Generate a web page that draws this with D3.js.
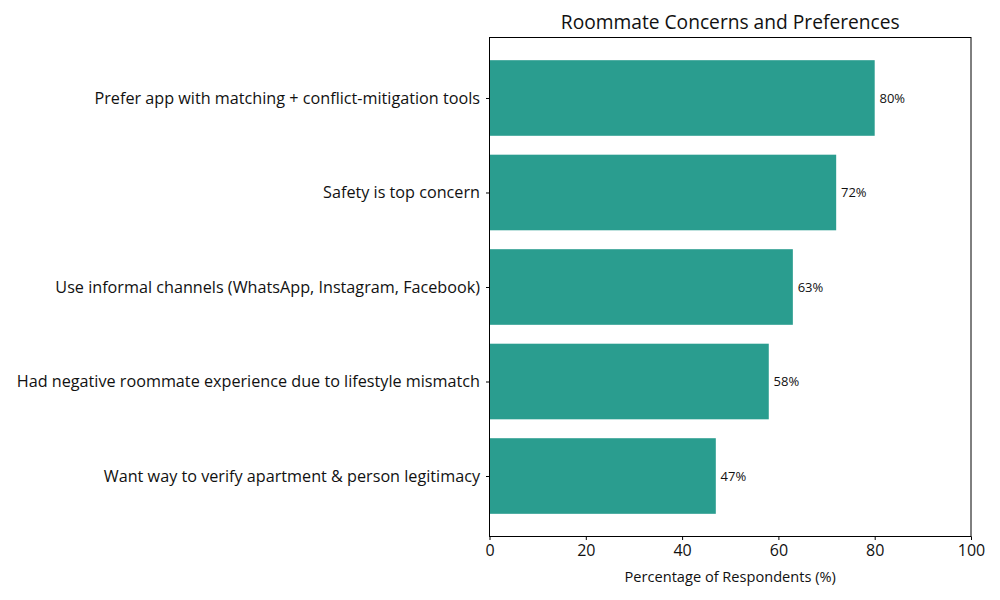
<!DOCTYPE html>
<html>
<head>
<meta charset="utf-8">
<script src="https://cdn.jsdelivr.net/npm/d3@7"></script>
<style>
  body { margin: 0; background: #fff; }
  text { font-family: "Open Sans", sans-serif; fill: #111; }
</style>
</head>
<body>
<script>
// survey items, top to bottom
const categories = [
    "Prefer app with matching + conflict-mitigation tools",
    "Safety is top concern",
    "Use informal channels (WhatsApp, Instagram, Facebook)",
    "Had negative roommate experience due to lifestyle mismatch",
    "Want way to verify apartment & person legitimacy"
];
const percentages = [80, 72, 63, 58, 47];
const xTicks = [0, 20, 40, 60, 80, 100];

const width = 1000;
const height = 600;
const plotLeft = 489.5, plotRight = 971, plotTop = 37.5, plotBottom = 536.5;

const svg = d3.select("body").append("svg")
    .attr("width", width)
    .attr("height", height);

const xScale = d3.scaleLinear().domain([0, 100]).range([plotLeft, plotRight]);
// matplotlib style barh: bars at 0..n-1, height 0.8, 5% margins
const n = categories.length;
const pad = (n - 1 + 0.8) * 0.05;
const yScale = d3.scaleLinear().domain([-0.4 - pad, n - 1 + 0.4 + pad]).range([plotTop, plotBottom]);

svg.append("g")
    .selectAll("rect")
    .data(percentages)
    .enter()
    .append("rect")
    .attr("x", xScale(0))
    .attr("y", (d, i) => yScale(i - 0.4))
    .attr("width", d => xScale(d) - xScale(0))
    .attr("height", yScale(0.8) - yScale(0))
    .attr("fill", "#2a9d8f");

svg.append("g")
    .selectAll("text")
    .data(percentages)
    .enter()
    .append("text")
    .attr("x", d => xScale(d + 1))
    .attr("y", (d, i) => yScale(i))
    .attr("dy", "0.35em")
    .style("font-size", "13px")
    .text(d => d + "%");

// frame
svg.append("rect")
    .attr("x", plotLeft).attr("y", plotTop)
    .attr("width", plotRight - plotLeft).attr("height", plotBottom - plotTop)
    .attr("fill", "none").attr("stroke", "#000").attr("stroke-width", 1);

const ax = svg.append("g")
    .attr("transform", `translate(0,${plotBottom})`)
    .call(d3.axisBottom(xScale).tickValues(xTicks).tickSize(3.5).tickPadding(5).tickFormat(d3.format("d")));
ax.select(".domain").remove();
ax.selectAll("text").style("font-size", "16px");

const ay = svg.append("g")
    .attr("transform", `translate(${plotLeft},0)`)
    .call(d3.axisLeft(yScale).tickValues(d3.range(n)).tickSize(3.5).tickPadding(6).tickFormat(i => categories[i]));
ay.select(".domain").remove();
ay.selectAll("text").style("font-size", "16.2px");

svg.append("text")
    .attr("x", (plotLeft + plotRight) / 2)
    .attr("y", 29)
    .attr("text-anchor", "middle")
    .style("font-size", "19.2px")
    .text("Roommate Concerns and Preferences");

svg.append("text")
    .attr("x", (plotLeft + plotRight) / 2)
    .attr("y", 582)
    .attr("text-anchor", "middle")
    .style("font-size", "14.6px")
    .text("Percentage of Respondents (%)");
</script>
</body>
</html>
